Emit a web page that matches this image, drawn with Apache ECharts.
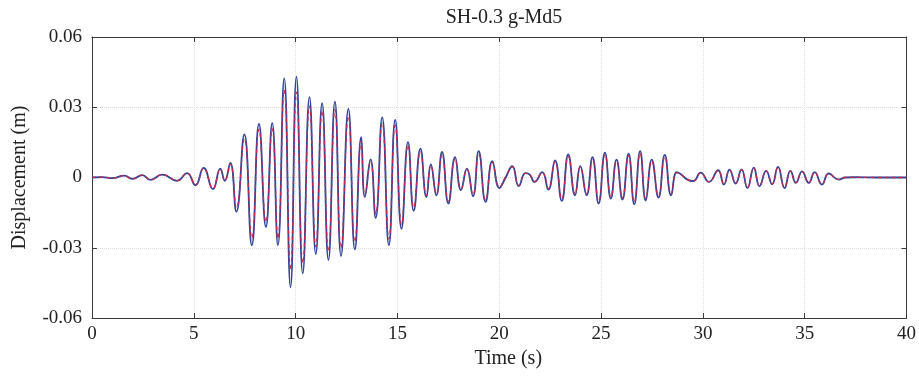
<!DOCTYPE html>
<html>
<head>
<meta charset="utf-8">
<script src="https://cdn.jsdelivr.net/npm/echarts@6/dist/echarts.min.js"></script>
<style>html,body{margin:0;padding:0;background:#fff}#c{width:919px;height:376px}</style>
</head>
<body>
<div id="c"></div>
<script>
const chartTitle = 'SH-0.3 g-Md5';
const xTicks = [0, 5, 10, 15, 20, 25, 30, 35, 40];
const yTicks = [-0.06, -0.03, 0, 0.03, 0.06];
const times = [0,0.5,1.0,1.58,1.98,2.47,2.87,3.45,4.18,4.67,5.08,5.48,5.94,6.30,6.52,6.79,7.09,7.48,7.85,8.20,8.54,8.85,9.13,9.44,9.75,10.04,10.35,10.68,10.99,11.30,11.61,11.93,12.23,12.59,12.91,13.22,13.40,13.68,13.93,14.25,14.58,14.89,15.20,15.52,15.80,16.13,16.42,16.64,16.91,17.19,17.50,17.83,18.12,18.41,18.71,18.99,19.33,19.66,20.01,20.30,20.64,20.96,21.29,21.50,21.73,22.11,22.41,22.74,23.07,23.39,23.72,23.98,24.29,24.58,24.88,25.19,25.48,25.76,26.05,26.35,26.63,26.92,27.19,27.49,27.82,28.13,28.44,28.72,28.95,29.24,29.53,29.89,30.30,30.75,31.03,31.31,31.61,31.90,32.19,32.50,32.78,33.11,33.40,33.69,34.01,34.30,34.57,34.87,35.20,35.49,35.85,36.18,36.67,37.0,37.5,38.5,40.0];
const blueDisp = [0,0.0002,-0.0003,0.0008,-0.0006,0.0010,-0.0010,0.0012,-0.0014,0.0019,-0.0033,0.0041,-0.0050,0.0038,-0.0014,0.0062,-0.0146,0.0184,-0.0289,0.0229,-0.0211,0.0232,-0.0289,0.0423,-0.0469,0.0431,-0.0409,0.0343,-0.0327,0.0317,-0.0352,0.0324,-0.0335,0.0293,-0.0307,0.0172,-0.0083,0.0077,-0.0172,0.0257,-0.0289,0.0246,-0.0219,0.0151,-0.0142,0.0123,-0.0083,0.0056,-0.0076,0.0109,-0.0111,0.0087,-0.0054,0.0038,-0.0080,0.0113,-0.0104,0.0070,-0.0045,-0.0003,0.0048,-0.0037,0.0019,0.0012,-0.0019,0.0023,-0.0052,0.0073,-0.0100,0.0099,-0.0076,0.0049,-0.0076,0.0087,-0.0111,0.0106,-0.0090,0.0076,-0.0094,0.0102,-0.0114,0.0113,-0.0098,0.0076,-0.0086,0.0097,-0.0076,0.0023,0.0012,-0.0009,-0.0015,0.0021,-0.0019,0.0031,-0.0030,0.0034,-0.0026,0.0035,-0.0045,0.0042,-0.0037,0.0028,-0.0029,0.0045,-0.0045,0.0028,-0.0023,0.0026,-0.0023,0.0023,-0.0030,0.0017,-0.0009,0.0000,0.0001,0.0000,0];
const redDisp = [0,0.0002,-0.0003,0.0008,-0.0006,0.0010,-0.0010,0.0012,-0.0013,0.0018,-0.0030,0.0038,-0.0046,0.0035,-0.0013,0.0057,-0.0130,0.0165,-0.0258,0.0205,-0.0190,0.0208,-0.0260,0.0372,-0.0395,0.0365,-0.0365,0.0305,-0.0295,0.0285,-0.0315,0.0290,-0.0300,0.0262,-0.0275,0.0155,-0.0075,0.0070,-0.0155,0.0232,-0.0262,0.0222,-0.0198,0.0138,-0.0128,0.0112,-0.0076,0.0051,-0.0069,0.0099,-0.0101,0.0079,-0.0049,0.0035,-0.0073,0.0103,-0.0095,0.0064,-0.0041,0.0002,0.0045,-0.0034,0.0018,0.0011,-0.0017,0.0021,-0.0047,0.0067,-0.0091,0.0090,-0.0069,0.0045,-0.0069,0.0079,-0.0101,0.0097,-0.0082,0.0069,-0.0086,0.0093,-0.0104,0.0103,-0.0089,0.0069,-0.0078,0.0088,-0.0069,0.0021,0.0011,-0.0008,-0.0014,0.0020,-0.0018,0.0029,-0.0028,0.0032,-0.0024,0.0033,-0.0042,0.0040,-0.0035,0.0027,-0.0027,0.0043,-0.0042,0.0027,-0.0022,0.0025,-0.0022,0.0022,-0.0028,0.0016,-0.0008,0.0000,0.0001,0.0000,0];

const serif = 'Liberation Serif';
const chart = echarts.init(document.getElementById('c'), null, {renderer: 'canvas'});
const pairs = arr => times.map((t, i) => [t, arr[i]]);
const frameAxis = {onZero: false, lineStyle: {color: '#3a3a3a', width: 1}};
const tick = {inside: true, length: 5, lineStyle: {color: '#3a3a3a'}};
const grid = {show: true, lineStyle: {color: '#dedede', type: 'dotted', width: 1}};
chart.setOption({
  animation: false,
  backgroundColor: '#fff',
  title: {text: chartTitle, left: 499, top: 3, textAlign: 'center',
    textStyle: {fontFamily: serif, fontSize: 20, fontWeight: 'normal', color: '#222'}},
  grid: {left: 92, right: 11, top: 37, bottom: 58},
  xAxis: [{
    type: 'value', min: xTicks[0], max: xTicks[xTicks.length - 1], interval: 5,
    name: 'Time (s)', nameLocation: 'middle', nameGap: 30,
    nameTextStyle: {fontFamily: serif, fontSize: 20, color: '#222', padding: [0, 0, 0, 18]},
    axisLine: frameAxis, axisTick: tick,
    axisLabel: {fontFamily: serif, fontSize: 19, color: '#222', margin: 7},
    splitLine: grid
  }, {
    type: 'value', position: 'top', min: xTicks[0], max: xTicks[xTicks.length - 1], interval: 5,
    axisLine: frameAxis, axisTick: tick,
    axisLabel: {show: false}, splitLine: {show: false}
  }],
  yAxis: [{
    type: 'value', min: yTicks[0], max: yTicks[yTicks.length - 1], interval: 0.03,
    name: 'Displacement (m)', nameLocation: 'middle', nameGap: 62,
    nameTextStyle: {fontFamily: serif, fontSize: 20, color: '#222'},
    axisLine: frameAxis, axisTick: tick,
    axisLabel: {fontFamily: serif, fontSize: 19, color: '#222', margin: 10,
      formatter: v => (Math.abs(v) < 1e-9 ? '0' : v.toFixed(2))},
    splitLine: grid
  }, {
    type: 'value', position: 'right', min: yTicks[0], max: yTicks[yTicks.length - 1], interval: 0.03,
    axisLine: frameAxis, axisTick: tick,
    axisLabel: {show: false}, splitLine: {show: false}
  }],
  series: [{
    type: 'line', name: 'blue', data: pairs(blueDisp), showSymbol: false, smooth: 0.5,
    lineStyle: {color: '#2f439a', width: 1.8}, z: 2
  }, {
    type: 'line', name: 'red', data: pairs(redDisp), showSymbol: false, smooth: 0.5,
    lineStyle: {color: '#c02c50', width: 1.3, type: [4, 3]}, z: 3
  }]
});
</script>
</body>
</html>
